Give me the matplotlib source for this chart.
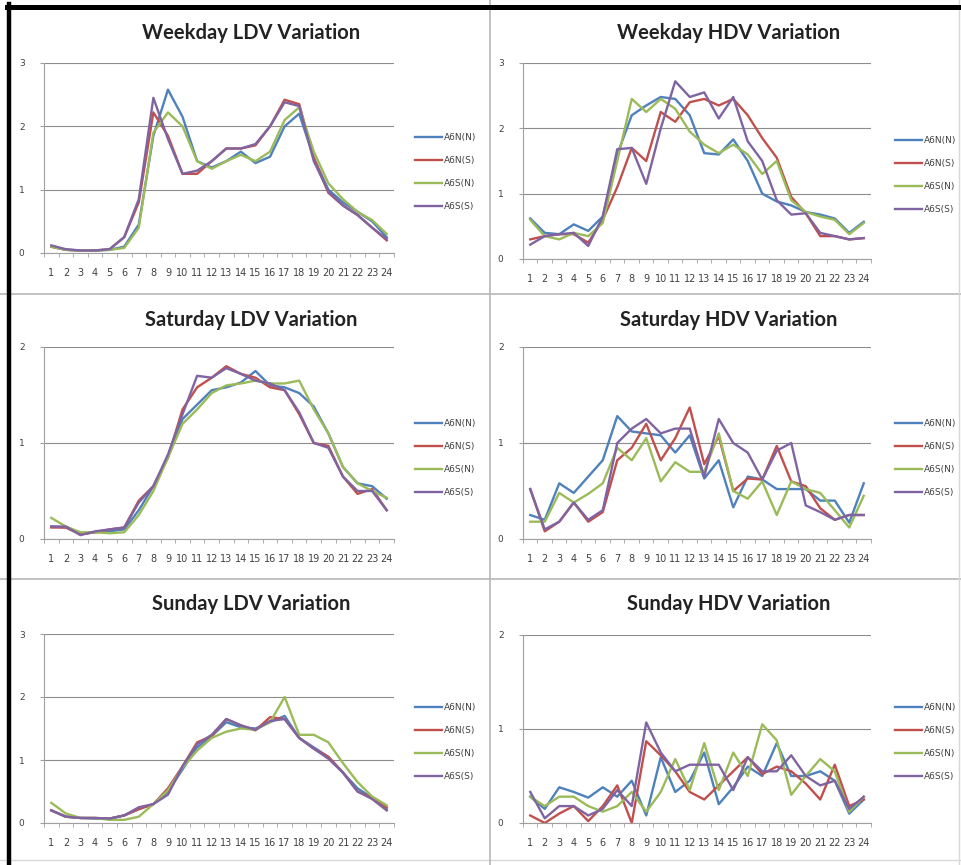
import matplotlib
matplotlib.use('Agg')
import matplotlib.pyplot as plt
from matplotlib.lines import Line2D

hours = list(range(1, 25))
series_names = ['A6N(N)', 'A6N(S)', 'A6S(N)', 'A6S(S)']
series_colors = ['#4F81BD', '#C0504D', '#9BBB59', '#8064A2']

# weekday, light duty
weekday_ldv_a6n_n = [0.10, 0.05, 0.04, 0.04, 0.05, 0.10, 0.45, 1.85, 2.58, 2.15, 1.45, 1.35,
                     1.45, 1.60, 1.42, 1.52, 2.00, 2.20, 1.50, 1.00, 0.80, 0.65, 0.50, 0.25]
weekday_ldv_a6n_s = [0.10, 0.05, 0.04, 0.04, 0.06, 0.25, 0.80, 2.22, 1.85, 1.25, 1.25, 1.45,
                     1.65, 1.65, 1.70, 2.00, 2.42, 2.35, 1.50, 0.95, 0.75, 0.60, 0.40, 0.20]
weekday_ldv_a6s_n = [0.10, 0.05, 0.04, 0.04, 0.05, 0.08, 0.40, 1.90, 2.22, 2.00, 1.45, 1.33,
                     1.45, 1.55, 1.45, 1.60, 2.10, 2.30, 1.60, 1.10, 0.85, 0.65, 0.52, 0.30]
weekday_ldv_a6s_s = [0.12, 0.06, 0.04, 0.04, 0.06, 0.25, 0.85, 2.45, 1.80, 1.25, 1.30, 1.45,
                     1.65, 1.65, 1.72, 2.00, 2.38, 2.32, 1.45, 0.97, 0.75, 0.60, 0.40, 0.22]

# weekday, heavy duty
weekday_hdv_a6n_n = [0.62, 0.40, 0.38, 0.53, 0.43, 0.65, 1.60, 2.20, 2.35, 2.48, 2.45, 2.20,
                     1.62, 1.60, 1.83, 1.50, 1.00, 0.88, 0.82, 0.72, 0.68, 0.62, 0.40, 0.57]
weekday_hdv_a6n_s = [0.30, 0.35, 0.38, 0.38, 0.25, 0.60, 1.10, 1.70, 1.50, 2.25, 2.10, 2.40,
                     2.45, 2.35, 2.45, 2.20, 1.85, 1.55, 0.95, 0.70, 0.35, 0.35, 0.30, 0.32]
weekday_hdv_a6s_n = [0.60, 0.35, 0.30, 0.40, 0.35, 0.55, 1.50, 2.45, 2.25, 2.45, 2.30, 1.95,
                     1.75, 1.62, 1.75, 1.60, 1.30, 1.50, 0.90, 0.72, 0.65, 0.60, 0.38, 0.55]
weekday_hdv_a6s_s = [0.22, 0.35, 0.38, 0.40, 0.20, 0.65, 1.68, 1.70, 1.15, 2.00, 2.72, 2.48,
                     2.55, 2.15, 2.48, 1.80, 1.50, 0.90, 0.68, 0.70, 0.40, 0.35, 0.30, 0.32]

# saturday, light duty
saturday_ldv_a6n_n = [0.13, 0.12, 0.05, 0.07, 0.08, 0.10, 0.30, 0.55, 0.85, 1.25, 1.40, 1.55,
                      1.58, 1.63, 1.75, 1.60, 1.58, 1.52, 1.38, 1.10, 0.75, 0.58, 0.55, 0.42]
saturday_ldv_a6n_s = [0.12, 0.12, 0.05, 0.07, 0.10, 0.12, 0.40, 0.55, 0.85, 1.35, 1.58, 1.68,
                      1.80, 1.72, 1.68, 1.58, 1.55, 1.30, 1.00, 0.97, 0.65, 0.47, 0.52, 0.30]
saturday_ldv_a6s_n = [0.22, 0.13, 0.07, 0.07, 0.06, 0.07, 0.25, 0.50, 0.85, 1.20, 1.35, 1.52,
                      1.60, 1.62, 1.65, 1.62, 1.62, 1.65, 1.35, 1.10, 0.75, 0.58, 0.50, 0.43]
saturday_ldv_a6s_s = [0.13, 0.13, 0.04, 0.08, 0.10, 0.12, 0.38, 0.55, 0.88, 1.30, 1.70, 1.68,
                      1.78, 1.72, 1.65, 1.62, 1.55, 1.32, 1.00, 0.95, 0.65, 0.50, 0.50, 0.30]

# saturday, heavy duty
saturday_hdv_a6n_n = [0.25, 0.20, 0.58, 0.48, 0.65, 0.82, 1.28, 1.12, 1.10, 1.08, 0.90, 1.08,
                      0.63, 0.82, 0.33, 0.65, 0.62, 0.52, 0.52, 0.52, 0.40, 0.40, 0.17, 0.58]
saturday_hdv_a6n_s = [0.52, 0.08, 0.18, 0.38, 0.18, 0.28, 0.82, 0.95, 1.20, 0.82, 1.05, 1.37,
                      0.78, 1.07, 0.50, 0.63, 0.62, 0.97, 0.60, 0.55, 0.32, 0.20, 0.25, 0.25]
saturday_hdv_a6s_n = [0.18, 0.18, 0.48, 0.38, 0.47, 0.58, 0.95, 0.82, 1.05, 0.60, 0.80, 0.70,
                      0.70, 1.10, 0.50, 0.42, 0.60, 0.25, 0.60, 0.52, 0.48, 0.30, 0.12, 0.45]
saturday_hdv_a6s_s = [0.52, 0.10, 0.18, 0.38, 0.20, 0.30, 1.00, 1.15, 1.25, 1.10, 1.15, 1.15,
                      0.65, 1.25, 1.00, 0.90, 0.62, 0.92, 1.00, 0.35, 0.28, 0.20, 0.25, 0.25]

# sunday, light duty
sunday_ldv_a6n_n = [0.20, 0.10, 0.08, 0.07, 0.07, 0.12, 0.22, 0.30, 0.50, 0.85, 1.20, 1.38,
                    1.60, 1.52, 1.50, 1.60, 1.70, 1.35, 1.20, 1.05, 0.80, 0.55, 0.40, 0.22]
sunday_ldv_a6n_s = [0.20, 0.10, 0.08, 0.08, 0.07, 0.12, 0.22, 0.30, 0.55, 0.90, 1.28, 1.38,
                    1.65, 1.55, 1.47, 1.68, 1.65, 1.35, 1.18, 1.05, 0.80, 0.50, 0.40, 0.25]
sunday_ldv_a6s_n = [0.32, 0.15, 0.08, 0.08, 0.05, 0.05, 0.10, 0.30, 0.52, 0.88, 1.15, 1.35,
                    1.45, 1.50, 1.48, 1.60, 2.00, 1.40, 1.40, 1.28, 0.95, 0.65, 0.42, 0.28]
sunday_ldv_a6s_s = [0.20, 0.10, 0.08, 0.08, 0.07, 0.12, 0.25, 0.30, 0.45, 0.90, 1.25, 1.40,
                    1.65, 1.55, 1.48, 1.62, 1.65, 1.35, 1.18, 1.02, 0.80, 0.50, 0.38, 0.20]

# sunday, heavy duty
sunday_hdv_a6n_n = [0.28, 0.15, 0.38, 0.33, 0.27, 0.38, 0.28, 0.45, 0.08, 0.70, 0.33, 0.45,
                    0.75, 0.20, 0.38, 0.60, 0.50, 0.85, 0.50, 0.50, 0.55, 0.45, 0.10, 0.25]
sunday_hdv_a6n_s = [0.08, 0.00, 0.10, 0.18, 0.02, 0.18, 0.40, 0.00, 0.87, 0.72, 0.55, 0.33,
                    0.25, 0.40, 0.55, 0.70, 0.52, 0.60, 0.55, 0.42, 0.25, 0.62, 0.18, 0.25]
sunday_hdv_a6s_n = [0.28, 0.18, 0.28, 0.28, 0.18, 0.12, 0.18, 0.33, 0.12, 0.33, 0.68, 0.35,
                    0.85, 0.35, 0.75, 0.50, 1.05, 0.88, 0.30, 0.50, 0.68, 0.55, 0.12, 0.28]
sunday_hdv_a6s_s = [0.33, 0.05, 0.18, 0.18, 0.08, 0.15, 0.35, 0.18, 1.07, 0.75, 0.55, 0.62,
                    0.62, 0.62, 0.35, 0.70, 0.55, 0.55, 0.72, 0.50, 0.40, 0.45, 0.15, 0.28]

W, H = 962, 865

# title, series, y max, plot box in pixels (left, right, top, bottom), legend (x, y) in pixels
panels = [
    ('Weekday LDV Variation',
     [weekday_ldv_a6n_n, weekday_ldv_a6n_s, weekday_ldv_a6s_n, weekday_ldv_a6s_s],
     3, (44, 394, 63, 253), (410, 172), 33),
    ('Weekday HDV Variation',
     [weekday_hdv_a6n_n, weekday_hdv_a6n_s, weekday_hdv_a6s_n, weekday_hdv_a6s_s],
     3, (523, 871, 63, 259), (890, 175), 33),
    ('Saturday LDV Variation',
     [saturday_ldv_a6n_n, saturday_ldv_a6n_s, saturday_ldv_a6s_n, saturday_ldv_a6s_s],
     2, (44, 394, 347, 539), (410, 458), 320),
    ('Saturday HDV Variation',
     [saturday_hdv_a6n_n, saturday_hdv_a6n_s, saturday_hdv_a6s_n, saturday_hdv_a6s_s],
     2, (523, 871, 347, 539), (890, 458), 320),
    ('Sunday LDV Variation',
     [sunday_ldv_a6n_n, sunday_ldv_a6n_s, sunday_ldv_a6s_n, sunday_ldv_a6s_s],
     3, (44, 394, 634, 823), (410, 742), 604),
    ('Sunday HDV Variation',
     [sunday_hdv_a6n_n, sunday_hdv_a6n_s, sunday_hdv_a6s_n, sunday_hdv_a6s_s],
     2, (523, 871, 635, 823), (890, 742), 604),
]

fig = plt.figure(figsize=(W / 100, H / 100), dpi=100)
fig.patch.set_facecolor('white')

for title, series, ymax, box, leg, title_y in panels:
    l, r, t, b = box
    ax = fig.add_axes([l / W, 1 - b / H, (r - l) / W, (b - t) / H])
    for vals, name, col in zip(series, series_names, series_colors):
        ax.plot(hours, vals, color=col, lw=1.7, label=name)
    ax.set_xlim(0.5, 24.5)
    ax.set_ylim(0, ymax)
    ax.set_yticks(range(ymax + 1))
    ax.set_xticks(hours)
    ax.set_xticks([h + 0.5 for h in range(0, 25)], minor=True)
    ax.tick_params(axis='x', which='major', length=0, pad=11, labelsize=7, labelcolor='#404040')
    ax.tick_params(axis='x', which='minor', length=3, color='#a0a0a0', direction='out')
    ax.tick_params(axis='y', length=3, color='#a0a0a0', pad=11, labelsize=6.5, labelcolor='#404040')
    ax.grid(axis='y', color='#8c8c8c', lw=0.8)
    ax.set_axisbelow(True)
    for side in ('top', 'right'):
        ax.spines[side].set_visible(False)
    for side in ('left', 'bottom'):
        ax.spines[side].set_color('#a0a0a0')
        ax.spines[side].set_linewidth(0.8)

    cx = (l + r) / 2 + 32
    fig.text(cx / W, 1 - title_y / H, title, ha='center', va='center',
             fontsize=14.5, fontweight='bold', family='Lato', color='#222222')

    ax.legend(loc='center left', bbox_to_anchor=(leg[0] / W, 1 - leg[1] / H),
              bbox_transform=fig.transFigure, frameon=False, fontsize=6.5,
              handlelength=3.0, handletextpad=0.3, labelspacing=1.55, borderpad=0,
              labelcolor='#404040')

# cell borders around the six charts
grey = '#b8b8b8'
fig.add_artist(Line2D([0, 1], [1 - 294 / H] * 2, color=grey, lw=1.2, transform=fig.transFigure))
fig.add_artist(Line2D([0, 1], [1 - 579 / H] * 2, color=grey, lw=1.2, transform=fig.transFigure))
fig.add_artist(Line2D([0, 1], [1 - 860 / H] * 2, color='#d8d8d8', lw=1.0, transform=fig.transFigure))
fig.add_artist(Line2D([490 / W] * 2, [0, 1], color=grey, lw=1.2, transform=fig.transFigure))
fig.add_artist(Line2D([959 / W] * 2, [0, 1], color='#d8d8d8', lw=1.0, transform=fig.transFigure))
fig.add_artist(Line2D([7 / W, 1], [1 - 6.5 / H] * 2, color='black', lw=3.6, transform=fig.transFigure))
fig.add_artist(Line2D([9 / W] * 2, [0, 1 - 4 / H], color='black', lw=3.2, transform=fig.transFigure))

fig.savefig('out.png', dpi=100, facecolor='white')
